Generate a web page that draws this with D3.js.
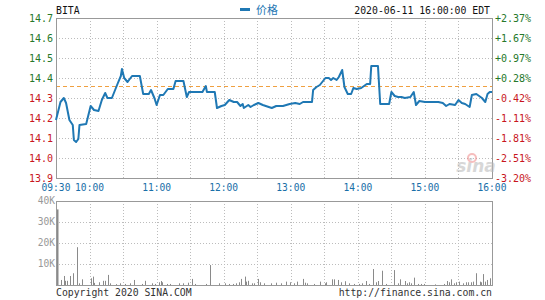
<!DOCTYPE html>
<html><head><meta charset="utf-8">
<script src="https://cdn.jsdelivr.net/npm/d3@7"></script>
<style>
html,body{margin:0;padding:0;background:#fff;}
svg{display:block;}
text{font-family:"DejaVu Sans Mono","Liberation Mono",monospace;}
</style></head>
<body>
<script>
// ---------- DATA ----------
const symbol = "BITA";
const legendLabel = "价格";
const stampLabel = "2020-06-11 16:00:00 EDT";
const prevClose = 14.36;
const priceTicks = [13.9, 14.0, 14.1, 14.2, 14.3, 14.4, 14.5, 14.6, 14.7];
const volTicks = [10000, 20000, 30000, 40000];
const volTickLabels = ["10K", "20K", "30K", "40K"];
const timeTickLabels = ["09:30","10:00","11:00","12:00","13:00","14:00","15:00","16:00"];

const priceTimes = ["09:30","09:34","09:37","09:39","09:42","09:45","09:46","09:48","09:50","09:51","09:57",
 "10:01","10:04","10:08","10:11","10:14","10:16","10:20","10:25","10:28","10:29","10:31","10:34","10:38","10:45",
 "10:48","10:53","10:55","10:58","11:00","11:03","11:06","11:10","11:15","11:17","11:24","11:27","11:29","11:41",
 "11:44","11:45","11:52","11:54","11:58","12:01","12:05","12:09","12:12","12:15","12:17","12:18","12:22","12:24",
 "12:27","12:31","12:35","12:43","12:47","12:53","12:59","13:04","13:08","13:11","13:19","13:20","13:23","13:26",
 "13:31","13:34","13:36","13:38","13:41","13:43","13:46","13:48","13:51","13:54","13:56","13:59","14:03","14:08",
 "14:11","14:12","14:18","14:19","14:20","14:28","14:30","14:33","14:36","14:39","14:42","14:47","14:50","14:52",
 "14:55","15:00","15:06","15:12","15:16","15:19","15:22","15:27","15:30","15:33","15:36","15:40","15:42","15:46",
 "15:51","15:54","15:56","15:58","16:00"];
const priceValues = [14.19,14.28,14.30,14.275,14.19,14.165,14.09,14.08,14.095,14.165,14.17,
 14.26,14.24,14.235,14.29,14.325,14.30,14.30,14.37,14.41,14.445,14.40,14.38,14.41,14.41,
 14.32,14.32,14.34,14.30,14.265,14.315,14.315,14.345,14.345,14.385,14.385,14.305,14.33,14.33,
 14.36,14.33,14.33,14.25,14.26,14.265,14.29,14.28,14.28,14.26,14.27,14.25,14.265,14.255,
 14.265,14.275,14.265,14.25,14.26,14.26,14.27,14.275,14.27,14.28,14.28,14.34,14.355,14.365,
 14.40,14.40,14.39,14.40,14.39,14.405,14.44,14.355,14.32,14.32,14.35,14.345,14.35,14.37,
 14.37,14.46,14.46,14.365,14.27,14.27,14.33,14.31,14.305,14.305,14.30,14.305,14.33,14.265,
 14.285,14.28,14.28,14.28,14.275,14.26,14.27,14.265,14.29,14.275,14.27,14.255,14.315,14.32,
 14.30,14.28,14.32,14.33,14.33];

const volTimes = ["09:30","09:34","09:36","09:37","09:39","09:42","09:44","09:48","09:50","09:52",
 "10:00","10:02","10:03","10:08","10:11","10:13","10:16","10:17","10:23","10:26","10:31","10:35","10:39","10:46",
 "10:49","10:55","10:58","11:01","11:03","11:04","11:08","11:11","11:19","11:23","11:27","11:31","11:33","11:43",
 "11:47","11:55","12:00","12:04","12:07","12:10","12:13","12:15","12:18","12:19","12:21","12:24","12:26","12:30",
 "12:32","12:35","12:41","12:46","12:50","12:55","12:58","13:02","13:05","13:10","13:12","13:14","13:20","13:25",
 "13:30","13:31","13:36","13:38","13:41","13:44","13:48","13:51","13:56","14:00","14:03","14:06","14:09","14:13",
 "14:15","14:17","14:21","14:24","14:31","14:35","14:37","14:41","14:43","14:45","14:47","14:49","14:53","14:56",
 "14:58","15:08","15:16","15:19","15:21","15:22","15:25","15:27","15:30","15:33","15:36","15:38","15:40","15:42",
 "15:45","15:48","15:49","15:51","15:53","15:55","15:57","15:59"];
const volValues = [36000,2400,4300,2000,2000,4300,5600,18000,800,2700,
 3200,4000,1000,1300,2000,2000,4800,800,400,800,500,800,2400,500,
 2000,800,500,1300,1900,1300,500,500,800,800,1100,2900,500,500,
 9500,800,800,500,500,800,1300,2900,4000,1600,2000,800,800,2900,
 1300,800,800,1100,800,1600,1300,800,1600,2900,1100,800,500,1600,
 800,1300,2700,2700,2400,1300,1800,800,500,500,800,1900,500,7600,
 1300,1900,6800,500,7100,800,2700,1900,800,1300,800,3500,500,500,
 500,300,500,1900,1300,2700,800,1300,1600,800,1300,1300,1300,1600,
 5600,1600,1300,5200,1600,2400,3200,4400];

// ---------- LAYOUT ----------
const W = 545, H = 300;
const L = 56, R = 492;
const pTop = 18, pBot = 178;
const vTop = 201, vBot = 285;
const green = "#26782a", red = "#c8161d", blue = "#1f78b4", gridC = "#bcbcbc", frameC = "#999";

const parse = d3.timeParse("%H:%M");
const x = d3.scaleTime().domain([parse("09:30"), parse("16:00")]).range([L, R]);
const y = d3.scaleLinear().domain([13.9, 14.7]).range([pBot, pTop]);
const yv = d3.scaleLinear().domain([0, 40000]).range([vBot, vTop]);

const svg = d3.select("body").append("svg").attr("width", W).attr("height", H);

// ---------- PRICE PANEL ----------
const halfHours = d3.timeMinute.every(30).range(parse("09:30"), d3.timeMinute.offset(parse("16:00"), 1));
function vgrid(top, bot) {
  svg.append("g").selectAll("line").data(halfHours.slice(1, -1)).join("line")
    .attr("x1", d => Math.round(x(d)) + 0.5).attr("x2", d => Math.round(x(d)) + 0.5)
    .attr("y1", top).attr("y2", bot)
    .attr("stroke", gridC).attr("stroke-dasharray", "1,2");
}
vgrid(pTop, pBot);
svg.append("g").selectAll("line").data(priceTicks.slice(1, -1)).join("line")
  .attr("x1", L).attr("x2", R)
  .attr("y1", d => Math.round(y(d)) + 0.5).attr("y2", d => Math.round(y(d)) + 0.5)
  .attr("stroke", gridC).attr("stroke-dasharray", "1,2");

// prev close dashed line
svg.append("line").attr("x1", L).attr("x2", R)
  .attr("y1", Math.round(y(prevClose)) + 0.5).attr("y2", Math.round(y(prevClose)) + 0.5)
  .attr("stroke", "#f0a040").attr("stroke-dasharray", "4,3");

svg.append("rect").attr("x", L + 0.5).attr("y", pTop + 0.5).attr("width", R - L).attr("height", pBot - pTop)
  .attr("fill", "none").attr("stroke", frameC);

// watermark
const wm = svg.append("g").attr("opacity", 0.55);
wm.append("text").attr("x", 476).attr("y", 172).attr("text-anchor", "middle")
  .style("font-family", "DejaVu Sans").style("font-style", "italic").style("font-weight", "bold")
  .style("font-size", "17px").attr("fill", "#b8b8b8").text("sina");
wm.append("circle").attr("cx", 472).attr("cy", 158).attr("r", 4).attr("fill", "none").attr("stroke", "#f08a8a").attr("stroke-width", 2);

// price line
const pts = priceTimes.map((t, i) => [parse(t), priceValues[i]]);
svg.append("path").datum(pts)
  .attr("d", d3.line().x(d => x(d[0])).y(d => y(d[1])))
  .attr("fill", "none").attr("stroke", blue).attr("stroke-width", 2).attr("stroke-linejoin", "round");

// left/right tick labels
const fmtPct = p => { const v = (p / prevClose - 1) * 100; return (v >= 0 ? "+" : "") + v.toFixed(2) + "%"; };
svg.append("g").selectAll("text").data(priceTicks).join("text")
  .attr("x", 53).attr("y", d => y(d)).attr("dy", "0.35em").attr("text-anchor", "end")
  .style("font-size", "10px").attr("fill", d => d > prevClose ? green : red)
  .text(d => d.toFixed(1));
svg.append("g").selectAll("text").data(priceTicks).join("text")
  .attr("x", 495).attr("y", d => y(d)).attr("dy", "0.35em").attr("text-anchor", "start")
  .style("font-size", "10px").attr("fill", d => d > prevClose ? green : red)
  .text(d => fmtPct(d));

// time labels
svg.append("g").selectAll("text").data(timeTickLabels).join("text")
  .attr("x", d => x(parse(d))).attr("y", 191).attr("text-anchor", "middle")
  .style("font-size", "9.6px").attr("fill", "#1a6fa8").text(d => d);

// header
svg.append("text").attr("x", 56).attr("y", 14).style("font-size", "9.8px").attr("fill", "#111").text(symbol);
svg.append("line").attr("x1", 240).attr("x2", 250).attr("y1", 9.5).attr("y2", 9.5).attr("stroke", blue).attr("stroke-width", 3);
svg.append("text").attr("x", 256).attr("y", 14).style("font-family", "Noto Sans CJK SC").style("font-size", "11px")
  .attr("fill", blue).text(legendLabel);
svg.append("text").attr("x", 490).attr("y", 14).attr("text-anchor", "end").style("font-size", "9.8px")
  .attr("fill", "#111").text(stampLabel);

// ---------- VOLUME PANEL ----------
vgrid(vTop, vBot);
svg.append("g").selectAll("line").data(volTicks.slice(0, -1)).join("line")
  .attr("x1", L).attr("x2", R)
  .attr("y1", d => Math.round(yv(d)) + 0.5).attr("y2", d => Math.round(yv(d)) + 0.5)
  .attr("stroke", gridC).attr("stroke-dasharray", "1,2");

svg.append("g").selectAll("line").data(volTimes.map((t, i) => [parse(t), volValues[i]])).join("line")
  .attr("x1", d => Math.round(x(d[0])) + 1.5).attr("x2", d => Math.round(x(d[0])) + 1.5)
  .attr("y1", yv(0)).attr("y2", d => yv(d[1]))
  .attr("stroke", "#8a8a8a").attr("stroke-width", (d, i) => i === 0 ? 2 : 1);

svg.append("rect").attr("x", L + 0.5).attr("y", vTop + 0.5).attr("width", R - L).attr("height", vBot - vTop)
  .attr("fill", "none").attr("stroke", frameC);

svg.append("g").selectAll("text").data(volTicks).join("text")
  .attr("x", 55).attr("y", d => yv(d)).attr("dy", "0.35em").attr("text-anchor", "end")
  .style("font-size", "9.6px").attr("fill", "#999").text((d, i) => volTickLabels[i]);

// footer
svg.append("text").attr("x", 56).attr("y", 296).style("font-size", "9.8px").attr("fill", "#333").text("Copyright 2020 SINA.COM");
svg.append("text").attr("x", 492).attr("y", 296).attr("text-anchor", "end").style("font-size", "9.8px").attr("fill", "#333").text("http://finance.sina.com.cn");
</script>
</body></html>
